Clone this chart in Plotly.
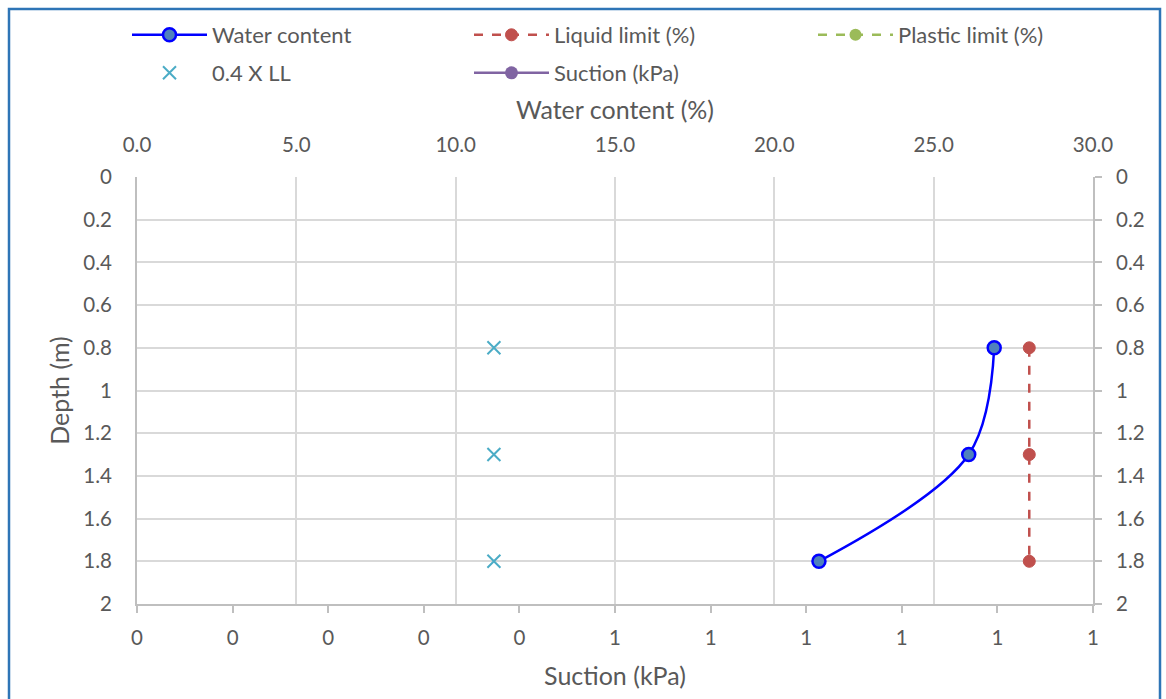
import plotly.graph_objects as go

# ---------------- data ----------------
depth = [0.8, 1.3, 1.8]
water_content = [26.9, 26.1, 21.4]
liquid_limit = [28.0, 28.0, 28.0]
ll_04 = [11.2, 11.2, 11.2]
plastic_limit = [None]
plastic_depth = [None]
suction = [None]
suction_depth = [None]

suction_ticks = [0.0, 0.1, 0.2, 0.3, 0.4, 0.5, 0.6, 0.7, 0.8, 0.9, 1.0]
suction_tick_labels = ["0", "0", "0", "0", "0", "1", "1", "1", "1", "1", "1"]

W, H = 1166, 699
L, R, T, B = 137, 1093, 177, 604
FONT = "Lato"
TXT = "#595959"
GRID = "#D9D9D9"
AX = "#BFBFBF"
FS = 20.5
LFS = 22

fig = go.Figure()

fig.add_trace(go.Scatter(
    x=water_content, y=depth, xaxis="x2", yaxis="y", name="Water content",
    mode="lines+markers", line=dict(color="#0000FF", width=2.5, shape="spline", smoothing=1.0),
    marker=dict(symbol="circle", size=13, color="#4F81BD", line=dict(color="#0000FF", width=2.5)),
    legend="legend"))
fig.add_trace(go.Scatter(
    x=liquid_limit, y=depth, xaxis="x2", yaxis="y", name="Liquid limit (%)",
    mode="lines+markers", line=dict(color="#C0504D", width=2.5, dash="dash"),
    marker=dict(symbol="circle", size=12, color="#C0504D", line=dict(color="#C0504D", width=1)),
    legend="legend"))
fig.add_trace(go.Scatter(
    x=plastic_limit, y=plastic_depth, xaxis="x2", yaxis="y", name="Plastic limit (%)",
    mode="lines+markers", line=dict(color="#9BBB59", width=2.5, dash="dash"),
    marker=dict(symbol="circle", size=12, color="#9BBB59"),
    legend="legend3"))
fig.add_trace(go.Scatter(
    x=ll_04, y=depth, xaxis="x2", yaxis="y", name="0.4 X LL",
    mode="markers",
    marker=dict(symbol="x-thin", size=13, color="#4BACC6", line=dict(color="#4BACC6", width=2)),
    legend="legend2"))
fig.add_trace(go.Scatter(
    x=suction, y=suction_depth, xaxis="x", yaxis="y", name="Suction (kPa)",
    mode="lines+markers", line=dict(color="#8064A2", width=2.5),
    marker=dict(symbol="circle", size=13, color="#8064A2"),
    legend="legend2"))
# invisible trace to activate right axis
fig.add_trace(go.Scatter(x=[None], y=[None], xaxis="x", yaxis="y2", showlegend=False, hoverinfo="skip"))

leg_common = dict(orientation="h", xref="container", yref="container",
                  xanchor="left", yanchor="top", entrywidth=252, entrywidthmode="pixels",
                  itemwidth=75, font=dict(size=LFS, color=TXT), bgcolor="rgba(0,0,0,0)")

fig.update_layout(
    width=W, height=H,
    margin=dict(l=L, r=W - R, t=T, b=H - B),
    paper_bgcolor="white", plot_bgcolor="white",
    font=dict(family=FONT, size=FS, color=TXT),
    xaxis=dict(
        range=[0, 1], tickmode="array", tickvals=suction_ticks, ticktext=suction_tick_labels,
        showgrid=False, zeroline=False, showline=True, linecolor=AX, linewidth=2,
        ticks="outside", ticklen=7, tickcolor=AX, tickwidth=2, ticklabelstandoff=7,
        title=dict(text="Suction (kPa)", standoff=20), side="bottom"),
    xaxis2=dict(
        range=[0, 30], dtick=5, tick0=0, tickformat=".1f", overlaying="x", side="top",
        showgrid=True, gridcolor=GRID, gridwidth=2, zeroline=False, showline=False,
        ticks="", ticklabelstandoff=20,
        title=dict(text="Water content (%)", standoff=6)),
    yaxis=dict(
        range=[2, 0], dtick=0.2, tick0=0, showgrid=True, gridcolor=GRID, gridwidth=2,
        zeroline=False, showline=True, linecolor=AX, linewidth=2, ticks="",
        ticklabelstandoff=19, title=dict(text="Depth (m)", standoff=7)),
    yaxis2=dict(
        range=[2, 0], dtick=0.2, tick0=0, overlaying="y", side="right", showgrid=False,
        zeroline=False, showline=True, linecolor=AX, linewidth=2,
        ticks="outside", ticklen=7, tickcolor=AX, tickwidth=2, ticklabelstandoff=10),
    legend=dict(leg_common, x=127 / W, y=1 - 14 / H),
    legend2=dict(leg_common, x=127 / W, y=1 - 52 / H),
    legend3=dict(leg_common, x=813 / W, y=1 - 14 / H),
    showlegend=True,
)

pw, ph = R - L, B - T
fig.add_shape(type="rect", xref="paper", yref="paper",
              x0=(9 - L) / pw, x1=(1160 - L) / pw,
              y0=(B - 712) / ph, y1=(B - 9) / ph,
              line=dict(color="#2E75B6", width=2.5), fillcolor="rgba(0,0,0,0)", layer="above")

fig.write_html("out.html")
